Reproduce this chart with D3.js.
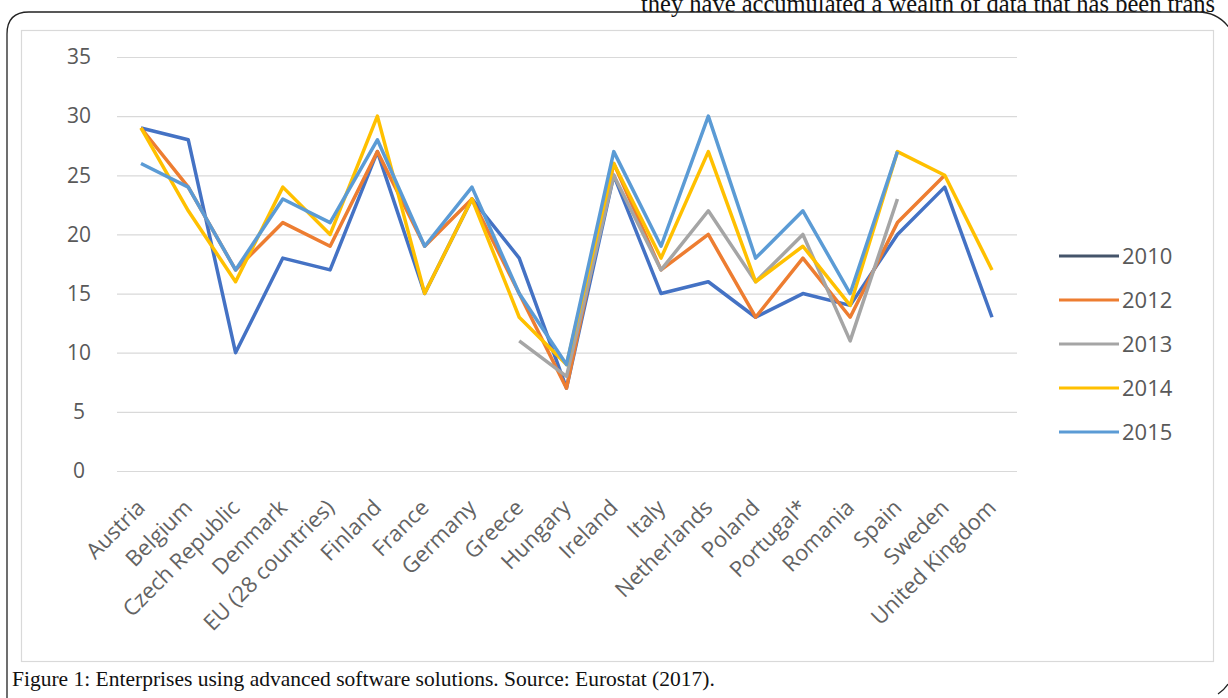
<!DOCTYPE html>
<html><head><meta charset="utf-8">
<script src="https://cdn.jsdelivr.net/npm/d3@7/dist/d3.min.js"></script>
<style>html,body{margin:0;padding:0;background:#fff;overflow:hidden}</style>
</head><body>
<svg id="c" width="1228" height="698"></svg>
<script>
const categories = ["Austria","Belgium","Czech Republic","Denmark","EU (28 countries)","Finland","France","Germany","Greece","Hungary","Ireland","Italy","Netherlands","Poland","Portugal*","Romania","Spain","Sweden","United Kingdom"];
const years = ["2010","2012","2013","2014","2015"];
const v2010 = [29,28,10,18,17,27,15,23,18,7,25,15,16,13,15,14,20,24,13];
const v2012 = [29,24,17,21,19,27,19,23,15,7,26,17,20,13,18,13,21,25,null];
const v2013 = [null,null,null,null,null,null,null,null,11,8,25,17,22,16,20,11,23,null,null];
const v2014 = [29,22,16,24,20,30,15,23,13,9,26,18,27,16,19,14,27,25,17];
const v2015 = [26,24,17,23,21,28,19,24,15,9,27,19,30,18,22,15,27,null,null];
const yTicks = [0,5,10,15,20,25,30,35];
const seriesValues = [v2010,v2012,v2013,v2014,v2015];
const lineColors = ["#4472C4","#ED7D31","#A5A5A5","#FFC000","#5B9BD5"];
const legendColors = ["#44546A","#ED7D31","#A5A5A5","#FFC000","#5B9BD5"];

const svg = d3.select("#c");
const sans = "Open Sans, Liberation Sans, sans-serif";
const serif = "Liberation Serif, DejaVu Serif, serif";
// top clipped running text (continues from the page above, cut like the reference)
svg.append("text").attr("x",641).attr("y",12)
  .attr("font-family",serif).attr("font-size",24.5).attr("fill","#111")
  .text("they have accumulated a wealth of data that has been trans");
// outer rounded frame
svg.append("path")
  .attr("d","M7,698 L7,34 Q7,12 29,12 L1198,12 Q1220,12 1232,32")
  .attr("fill","none").attr("stroke","#222").attr("stroke-width",1.3);
svg.append("path").attr("d","M1218,694 Q1224,690 1228,684").attr("fill","none").attr("stroke","#222").attr("stroke-width",1.3);
// inner chart box
svg.append("rect").attr("x",21.5).attr("y",30.5).attr("width",1192).attr("height",631)
  .attr("fill","#fff").attr("stroke","#d9d9d9").attr("stroke-width",1.2);

const x = d3.scalePoint().domain(categories).range([141,992]);
const y = d3.scaleLinear().domain([0,35]).range([471,57]);

// gridlines
const grid = svg.append("g").attr("transform","translate(117,0)")
  .call(d3.axisLeft(y).tickValues(yTicks).tickSize(-900).tickFormat(""));
grid.select(".domain").remove();
grid.selectAll("line").attr("stroke","#d9d9d9").attr("stroke-width",1.2);

// y tick labels
const ya = svg.append("g").attr("transform","translate(79,0)")
  .call(d3.axisLeft(y).tickValues(yTicks).tickSize(0).tickPadding(0));
ya.select(".domain").remove();
ya.selectAll("text").attr("font-family",sans).attr("font-size",21).attr("fill","#595959").attr("text-anchor","middle");

// x axis labels
const xa = svg.append("g").attr("transform","translate(0,471)")
  .call(d3.axisBottom(x).tickSize(0).tickPadding(0));
xa.select(".domain").remove();
xa.selectAll("text").attr("font-family",sans).attr("font-size",22).attr("fill","#636363")
  .attr("text-anchor","end").attr("dy",0).attr("dx",0)
  .attr("transform","translate(5,38) rotate(-45)");

// lines
const line = d3.line().defined(d=>d.v!=null).x(d=>x(d.c)).y(d=>y(d.v));
seriesValues.forEach((vals,i)=>{
  svg.append("path").datum(categories.map((c,j)=>({c:c,v:vals[j]})))
    .attr("d",line).attr("fill","none").attr("stroke",lineColors[i])
    .attr("stroke-width",3.5).attr("stroke-linejoin","round").attr("stroke-linecap","butt");
});

// legend
const ly = d3.scalePoint().domain(years).range([256,432]);
const lg = svg.append("g");
years.forEach((yr,i)=>{
  lg.append("line").attr("x1",1059).attr("x2",1119).attr("y1",ly(yr)).attr("y2",ly(yr))
    .attr("stroke",legendColors[i]).attr("stroke-width",3);
  lg.append("text").attr("x",1122).attr("y",ly(yr)).attr("dy","0.36em")
    .attr("font-family",sans).attr("font-size",22).attr("fill","#595959").text(yr);
});

// caption
svg.append("text").attr("x",12).attr("y",686)
  .attr("font-family",serif).attr("font-size",21.5).attr("fill","#111")
  .text("Figure 1: Enterprises using advanced software solutions. Source: Eurostat (2017).");
</script>
</body></html>
